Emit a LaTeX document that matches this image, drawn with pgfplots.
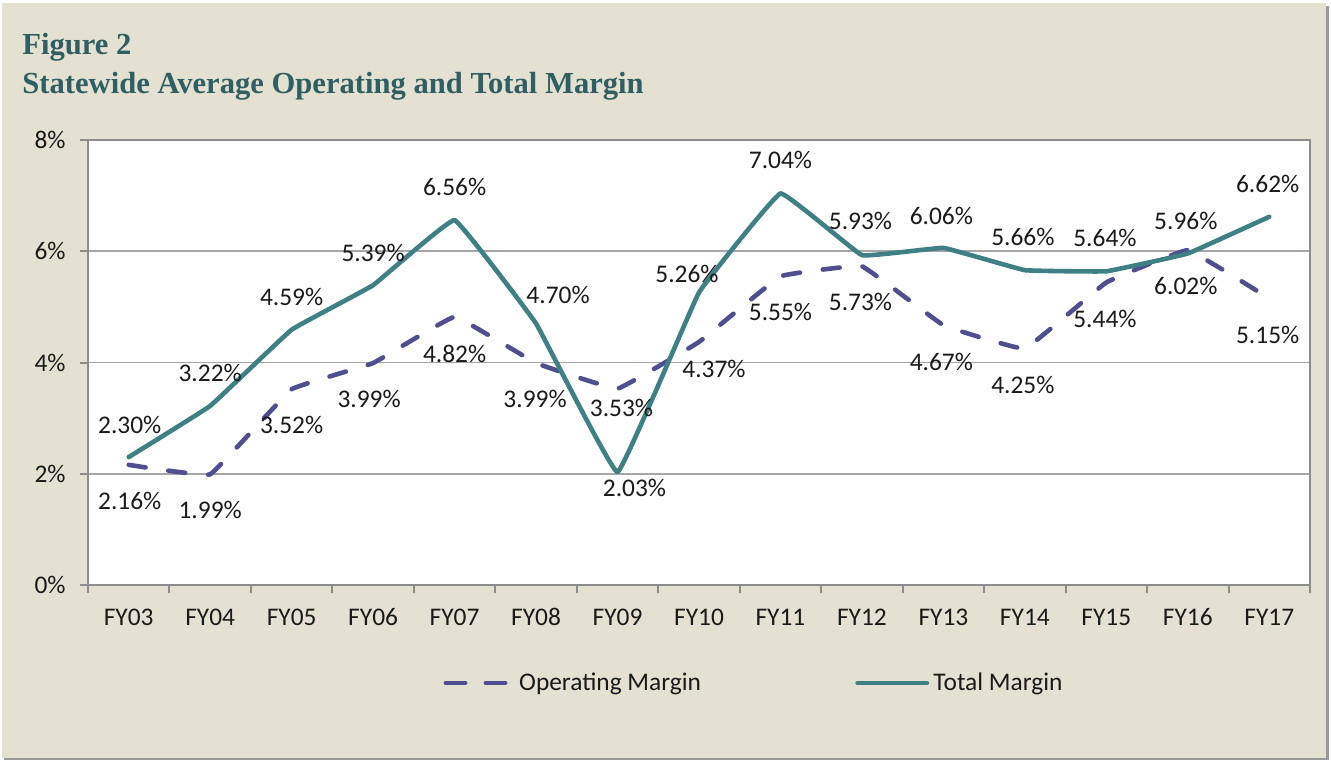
\documentclass[border=0pt]{standalone}
\usepackage{pgfplots}
\pgfplotsset{compat=1.18}
\usepackage{fontspec}
\setmainfont{Carlito}
\newfontfamily\titlefont{Liberation Serif}
\definecolor{bgc}{HTML}{E5E1D2}
\definecolor{totc}{HTML}{3E8083}
\definecolor{opc}{HTML}{4F4F8F}
\definecolor{titlec}{HTML}{2F5F63}
\definecolor{gridc}{HTML}{A6A6A6}
\definecolor{axc}{HTML}{8C8C8C}
\definecolor{txtc}{HTML}{1A1A1A}

\pgfplotstableread{
x y dx dy
0 2.16 0.5 -18
1 1.99 0 -18
2 3.52 0 -18
3 3.99 -2 -18
4 4.82 0 -18.5
5 3.99 -0.5 -18
6 3.53 2 -9.5
7 4.37 7.5 -13.5
8 5.55 0 -18
9 5.73 -0.7 -18
10 4.67 -1 -18.5
11 4.25 -1 -18
12 5.44 -0.7 -18.2
13 6.02 -1 -18
14 5.15 -0.8 -18.2
}\opdata

\pgfplotstableread{
x y dx dy
0 2.30 0.5 16.2
1 3.22 0 16.5
2 4.59 0 16.5
3 5.39 0 16.2
4 6.56 0 16.5
5 4.70 11 14.5
6 2.03 8.5 -8
7 5.26 -6 9
8 7.04 0 16.5
9 5.93 -0.7 17
10 6.06 -1 16
11 5.66 -1 16.5
12 5.64 -0.7 16.5
13 5.96 -1 16.5
14 6.62 -0.8 16.5
}\totdata

\pgfplotsset{
  opleg/.style={legend image code/.code={\path (0pt,0pt) -- (31pt,0pt);
      \draw[##1] (1.15pt,0pt) -- (31pt,0pt);}},
  totleg/.style={legend image code/.code={\path (0pt,0pt) -- (32.25pt,0pt);
      \draw[##1, overlay] (1.15pt,0pt) -- (34.6pt,0pt);}},
}
\def\dx{0}\def\dy{0}
\begin{document}
\begin{tikzpicture}[x=1pt,y=1pt]
\useasboundingbox (0,0) rectangle (665.5,380.5);
\fill[white] (0,0) rectangle (665.5,380.5);
\fill[black!40] (2,0.3) rectangle (664.6,377.5);
\fill[bgc] (1,1.5) rectangle (663,379);
\node[anchor=base west, inner sep=0pt, text=titlec, align=left,
      font=\titlefont\bfseries\fontsize{15.3}{19.5}\selectfont] at (11,333.5)
      {Figure 2\\Statewide Average Operating and Total Margin};
\begin{axis}[
  at={(44pt,88pt)}, anchor=south west,
  scale only axis, width=611pt, height=222.5pt,
  xmin=-0.5, xmax=14.5, ymin=0, ymax=8,
  clip=false,
  axis background/.style={fill=white},
  axis line style={axc, line width=1pt},
  tick style={axc, line width=1pt},
  major tick length=4pt,
  tick align=outside,
  xtick pos=bottom, ytick pos=left,
  xtick={-0.5,0.5,...,14.5},
  xticklabels={},
  extra x ticks={0,1,...,14},
  extra x tick labels={FY03,FY04,FY05,FY06,FY07,FY08,FY09,FY10,FY11,FY12,FY13,FY14,FY15,FY16,FY17},
  extra x tick style={tick style={draw=none}, grid=none},
  ytick={0,2,4,6,8},
  yticklabels={0\%,2\%,4\%,6\%,8\%},
  ymajorgrids,
  grid style={gridc, line width=0.9pt},
  ticklabel style={font=\fontsize{12.7}{15}\selectfont, text=txtc, inner sep=0pt},
  xticklabel style={anchor=center, yshift=-12pt},
  yticklabel style={anchor=east, xshift=-7pt},
  /pgf/number format/assume math mode=true,
  legend columns=2,
  legend style={draw=none, fill=none, at={(0.5442,-0.2202)}, anchor=center,
     font=\fontsize{12.7}{15}\selectfont, text=txtc, inner sep=0pt,
     nodes={inner sep=0pt},
     /tikz/every odd column/.append style={column sep=4.5pt},
     /tikz/every even column/.append style={column sep=77.2pt}},
  lab/.style={point meta=y,
    nodes near coords={\pgfmathprintnumber[fixed,fixed zerofill,precision=2]{\pgfplotspointmeta}\%},
    visualization depends on={\thisrow{dx}\as\dx},
    visualization depends on={\thisrow{dy}\as\dy},
    every node near coord/.append style={text=txtc, font=\fontsize{12.7}{15}\selectfont,
       anchor=center, inner sep=0pt, xshift=\dx pt, yshift=\dy pt}},
]
\addplot[opc, line width=2.3pt, dash pattern=on 8.5pt off 11.5pt, line cap=round,
   line join=round, smooth, tension=0.12, lab, opleg]
   table[x=x,y=y] {\opdata};
\addlegendentry{Operating Margin}
\addplot[totc, line width=2.3pt, line cap=round, line join=round, smooth, tension=0.12, lab, totleg]
   table[x=x,y=y] {\totdata};
\addlegendentry{Total Margin}
\end{axis}
\end{tikzpicture}
\end{document}
